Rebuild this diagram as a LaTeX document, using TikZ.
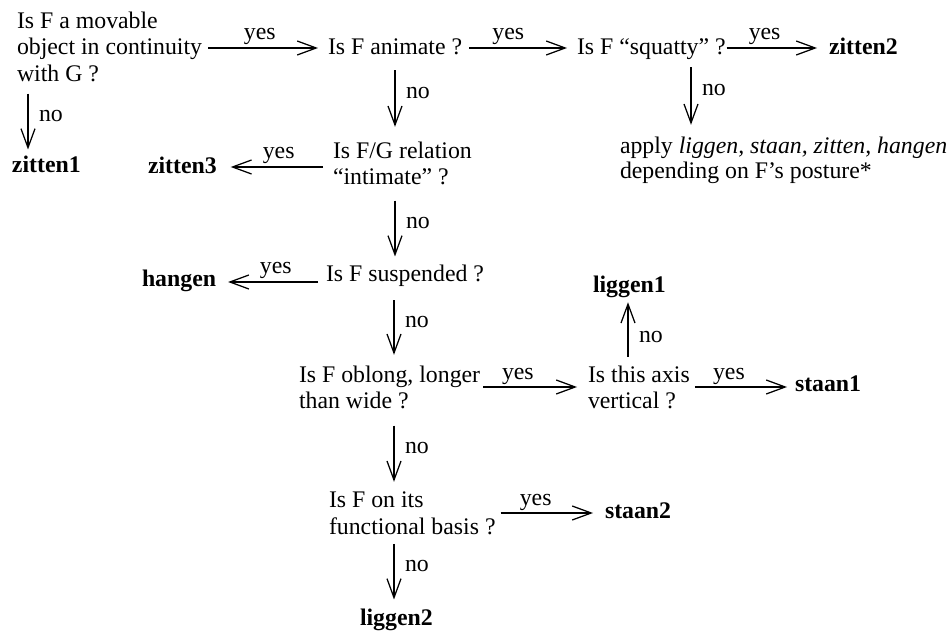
\documentclass[tikz,border=0pt]{standalone}
\usepackage{fontspec}
\setmainfont{Liberation Serif}
\usetikzlibrary{arrows.meta,calc}
\begin{document}
\begin{tikzpicture}[x=1pt,y=-1pt,
  every node/.style={inner sep=0pt, outer sep=0pt, font=\fontsize{23.8}{26.5}\selectfont},
  q/.style={anchor=base west},
  qm/.style={anchor=north west, align=left},
  ans/.style={anchor=base west, font=\fontsize{23.8}{26.5}\selectfont\bfseries},
  arr/.style={line width=1.25pt, -{Straight Barb[length=19pt,width=14pt,line width=1.25pt]}},
  yeslab/.style={anchor=base, yshift=8pt},
  nolab/.style={anchor=base west, xshift=11pt},
]
\useasboundingbox (0,0) rectangle (951,631);

\node[qm] (A) at (17,11.8) {Is F a movable\\object in continuity\\with G ?};
\node[q] (B) at (328,55) {Is F animate ?};
\node[q] (C) at (577,55) {Is F “squatty” ?};
\node[ans] (Z2) at (829,55) {zitten2};
\node[qm, font=\fontsize{23.8}{25}\selectfont] (P) at (620,136.8) {apply \textit{liggen, staan, zitten, hangen}\\depending on F’s posture*};
\node[ans] (Z1) at (12,173) {zitten1};
\node[qm] (D) at (333,141.8) {Is F/G relation\\“intimate” ?};
\node[ans] (Z3) at (148,174) {zitten3};
\node[q] (E) at (326,282) {Is F suspended ?};
\node[ans] (HG) at (142,287) {hangen};
\node[ans] (L1) at (593,293) {liggen1};
\node[qm] (F) at (299,365.8) {Is F oblong, longer\\than wide ?};
\node[qm] (G) at (588,365.8) {Is this axis\\vertical ?};
\node[ans] (S1) at (795,391) {staan1};
\node[qm] (H) at (329,491.8) {Is F on its\\functional basis ?};
\node[ans] (S2) at (605,518) {staan2};
\node[ans] (L2) at (360,625) {liggen2};

\draw[arr] ($(A.east |- 0,48)+(6,0)$) -- ($(B.west |- 0,48)+(-10,0)$) node[yeslab,pos=0.47]{yes};
\draw[arr] ($(B.east |- 0,48)+(7,0)$) -- ($(C.west |- 0,48)+(-10,0)$) node[yeslab,pos=0.4]{yes};
\draw[arr] ($(C.east |- 0,48)+(1,0)$) -- ($(Z2.west |- 0,48)+(-12,0)$) node[yeslab,pos=0.42]{yes};
\draw[arr] ($(A.south -| 28,0)+(0,12)$) -- ($(Z1.north -| 28,0)+(0,-7)$) node[nolab,midway]{no};
\draw[arr] ($(B.south -| 395,0)+(0,15)$) -- ($(D.north -| 395,0)+(0,-15)$) node[nolab,midway]{no};
\draw[arr] ($(C.south -| 691,0)+(0,7)$) -- ($(P.north -| 691,0)+(0,-12)$) node[nolab,midway]{no};
\draw[arr] ($(D.west |- 0,167)+(-10,0)$) -- ($(Z3.east |- 0,167)+(14,0)$) node[yeslab,pos=0.48]{yes};
\draw[arr] ($(D.south -| 395,0)+(0,15.5)$) -- ($(E.north -| 395,0)+(0,-9)$) node[nolab,midway]{no};
\draw[arr] ($(E.west |- 0,282)+(-8,0)$) -- ($(HG.east |- 0,282)+(12,0)$) node[yeslab,pos=0.47]{yes};
\draw[arr] ($(E.south -| 394,0)+(0,13)$) -- ($(F.north -| 394,0)+(0,-11)$) node[nolab,midway]{no};
\draw[arr] ($(F.east |- 0,387)+(3,0)$) -- ($(G.west |- 0,387)+(-11,0)$) node[yeslab,pos=0.37]{yes};
\draw[arr] ($(G.north -| 628,0)+(0,-9)$) -- ($(L1.south -| 628,0)+(0,4)$) node[nolab,pos=0.27]{no};
\draw[arr] ($(G.east |- 0,387)+(5,0)$) -- ($(S1.west |- 0,387)+(-8,0)$) node[yeslab,pos=0.37]{yes};
\draw[arr] ($(F.south -| 394,0)+(0,16.5)$) -- ($(H.north -| 394,0)+(0,-10)$) node[nolab,midway]{no};
\draw[arr] ($(H.east |- 0,513)+(5,0)$) -- ($(S2.west |- 0,513)+(-12,0)$) node[yeslab,pos=0.38]{yes};
\draw[arr] ($(H.south -| 394,0)+(0,9.5)$) -- ($(L2.north -| 394,0)+(0,-9)$) node[nolab,midway]{no};
\end{tikzpicture}
\end{document}
